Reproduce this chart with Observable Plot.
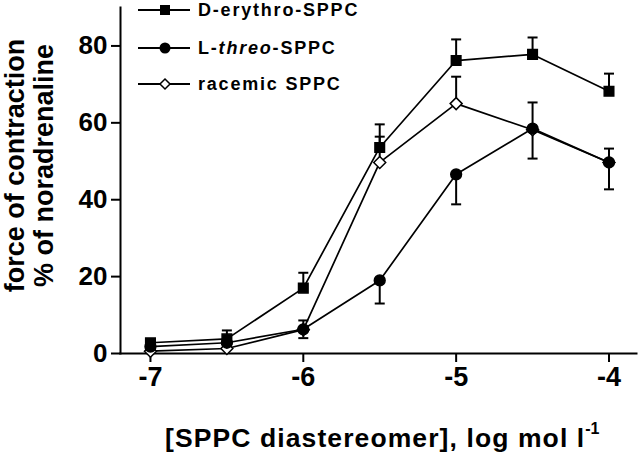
<!DOCTYPE html>
<html>
<head>
<meta charset="utf-8">
<script src="https://cdn.jsdelivr.net/npm/d3@7"></script>
<script src="https://cdn.jsdelivr.net/npm/@observablehq/plot@0.6"></script>
<style>
  html, body { margin: 0; padding: 0; background: #fff; }
  #wrap { position: relative; width: 640px; height: 455px; overflow: hidden; font-family: "Liberation Sans", Arial, Helvetica, sans-serif; }
  #wrap svg.plot { position: absolute; left: 0; top: 0; }
  .leg { position: absolute; left: 138px; height: 22px; display: flex; align-items: center; font-weight: bold; font-size: 18px; letter-spacing: 1.8px; color: #000; white-space: nowrap; }
  .leg svg { margin-right: 8px; }
  #xtitle { position: absolute; left: 165px; top: 418px; font-weight: bold; font-size: 26.5px; line-height: 28px; letter-spacing: 1.1px; white-space: nowrap; color: #000; }
  #xtitle sup { font-size: 16px; letter-spacing: 0; position: relative; top: -3px; }
</style>
</head>
<body>
<div id="wrap"></div>
<script>
// ---- data ----
const logConc = [-7, -6.5, -6, -5.5, -5, -4.5, -4];
const seriesNames = ["D-erythro-SPPC", "L-threo-SPPC", "racemic SPPC"];
const dErythro    = [2.8, 3.8, 17.0, 53.6, 76.2, 77.8, 68.2];
const dErythroSem = [0.8, 2.2, 4.0, 6.0, 5.5, 4.4, 4.6];
const lThreo      = [1.8, 2.8, 6.3, 19.0, 46.6, 58.5, 49.7];
const lThreoSem   = [0.5, 0.5, 2.3, 6.0, 7.8, 7.8, 7.0];
const racemic     = [0.6, 1.3, 6.2, 49.7, 65.0, 58.2, 49.7];
const racemicSem  = [0.3, 0.3, 2.4, 6.7, 7.0, 7.1, 3.6];
const errorSide   = [1, -1, 1]; // error bars drawn above (1) or below (-1)
const xTicks = [-7, -6, -5, -4];
const yTicks = [0, 20, 40, 60, 80];

const values = [dErythro, lThreo, racemic];
const sems = [dErythroSem, lThreoSem, racemicSem];
const symbols = ["square", "circle", "diamond2"];
const fills = ["black", "black", "white"];
const drawOrder = [2, 0, 1]; // racemic underneath, then D-erythro, L-threo on top

const rows = [];
seriesNames.forEach((name, i) => {
  logConc.forEach((x, j) => {
    const y = values[i][j];
    rows.push({series: name, idx: i, x, y, yEnd: y + errorSide[i] * sems[i][j], symbol: symbols[i], fill: fills[i]});
  });
});

const capSymbol = { draw(ctx) { ctx.moveTo(-5, 0); ctx.lineTo(5, 0); } };

const dotMarks = drawOrder.map(i =>
  Plot.dot(rows.filter(r => r.idx === i), {x: "x", y: "y", symbol: "symbol", r: 5.4, fill: "fill", stroke: "black", strokeWidth: 1.5})
);

const chart = Plot.plot({
  width: 640,
  height: 405,
  marginLeft: 120,
  marginRight: 4,
  marginTop: 7,
  marginBottom: 52,
  x: {domain: [-7.196, -3.82]},
  y: {domain: [0, 90]},
  symbol: {type: "identity"},
  style: {fontFamily: "'Liberation Sans', Arial, Helvetica, sans-serif", color: "black", background: "white"},
  marks: [
    Plot.frame({anchor: "left", strokeWidth: 2}),
    Plot.frame({anchor: "bottom", strokeWidth: 2}),
    Plot.axisY({ticks: yTicks, tickSize: 9, tickPadding: 4, strokeWidth: 2, fontSize: 26, fontWeight: "bold", tickFormat: d => String(d), label: null}),
    Plot.axisX({ticks: xTicks, tickSize: 9, tickPadding: 4, strokeWidth: 2, fontSize: 27, fontWeight: "bold", tickFormat: d => String(d), label: null}),
    Plot.text(["force of contraction"], {frameAnchor: "left", text: d => d, rotate: -90, dx: -105, dy: -15, fontSize: 27, fontWeight: "bold", textAnchor: "middle", lineAnchor: "middle"}),
    Plot.text(["% of noradrenaline"], {frameAnchor: "left", text: d => d, rotate: -90, dx: -76, dy: -15, fontSize: 27, fontWeight: "bold", textAnchor: "middle", lineAnchor: "middle"}),
    Plot.ruleX(rows, {x: "x", y1: "y", y2: "yEnd", stroke: "black", strokeWidth: 2}),
    Plot.dot(rows, {x: "x", y: "yEnd", symbol: () => capSymbol, stroke: "black", strokeWidth: 2, fill: "none"}),
    Plot.line(rows, {x: "x", y: "y", z: "series", stroke: "black", strokeWidth: 1.7}),
    ...dotMarks
  ]
});

const wrap = document.getElementById("wrap");
wrap.appendChild(chart);

// legend
const legendTop = [-1, 37, 73];
function legendSymbol(i) {
  const line = '<line x1="0" x2="52" y1="11" y2="11" stroke="black" stroke-width="2"/>';
  let m;
  if (i === 0) m = '<rect x="22" y="6" width="10" height="10" fill="black"/>';
  else if (i === 1) m = '<circle cx="27" cy="11" r="5.5" fill="black"/>';
  else m = '<path d="M27,6 L32,11 L27,16 L22,11 Z" fill="white" stroke="black" stroke-width="1.5"/>';
  return '<svg width="52" height="22">' + line + m + '</svg>';
}
const labelsHtml = ["D-erythro-SPPC", "L-<i>threo</i>-SPPC", "racemic SPPC"];
seriesNames.forEach((name, i) => {
  const d = document.createElement("div");
  d.className = "leg";
  d.style.top = legendTop[i] + "px";
  d.innerHTML = legendSymbol(i) + "<span>" + labelsHtml[i] + "</span>";
  wrap.appendChild(d);
});

const xt = document.createElement("div");
xt.id = "xtitle";
xt.innerHTML = "[SPPC diastereomer], log mol l<sup>-1</sup>";
wrap.appendChild(xt);
</script>
</body>
</html>
